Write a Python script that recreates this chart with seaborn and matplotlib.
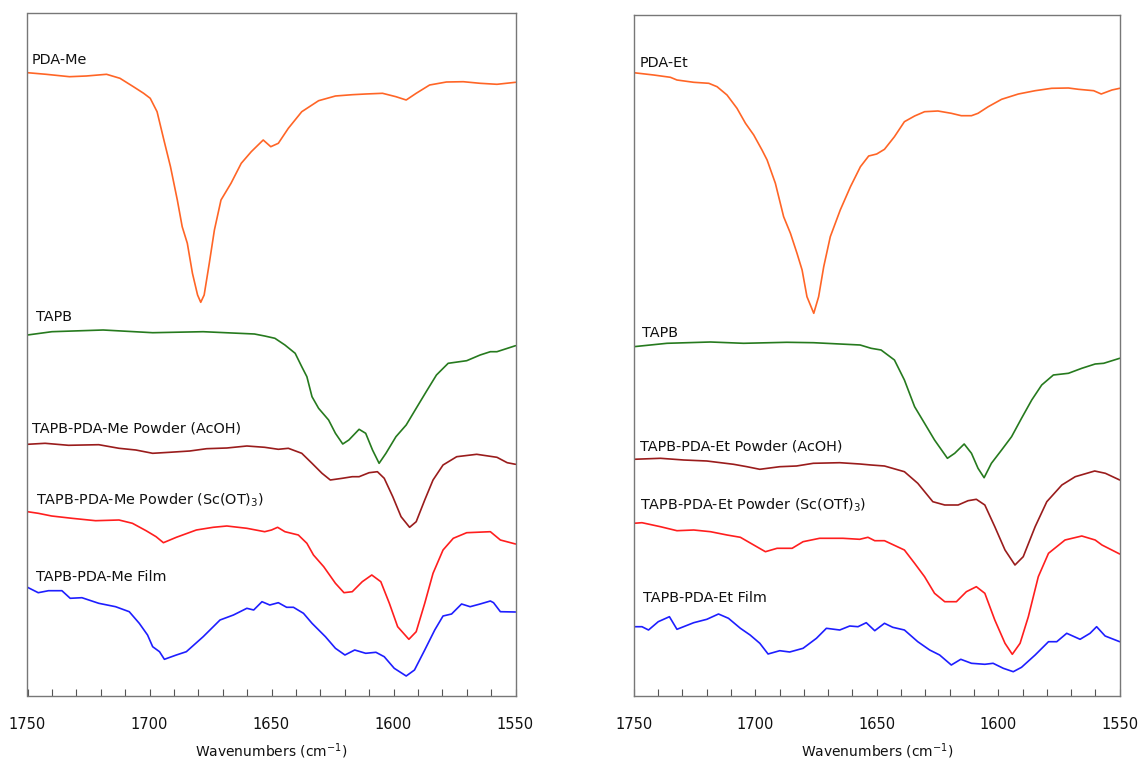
import matplotlib
matplotlib.use("Agg")
import matplotlib.pyplot as plt
import seaborn as sns
import pandas as pd
from matplotlib.ticker import MultipleLocator

# ---------------- data (offset absorbance, arbitrary units; larger = lower on plot) ----------------
# Left panel: PDA-Me series
wn_pda_me = [1750, 1742.4, 1732.8, 1725.9, 1717.6, 1712.1, 1706.6, 1702.4, 1699.7, 1696.9, 1694.1, 1691.4,
             1688.6, 1686.6, 1684.5, 1682.4, 1680.3, 1679, 1677.6, 1675.5, 1673.4, 1670.7, 1666.6, 1662.4,
             1658.3, 1653.4, 1650.3, 1647.2, 1643.1, 1637.6, 1630.7, 1623.8, 1616.9, 1611.4, 1604.5, 1599,
             1594.8, 1590.7, 1585.2, 1578.3, 1571.4, 1564.5, 1557.6, 1550]
ab_pda_me = [72.7, 74.3, 76.7, 76, 74.3, 78.3, 86.7, 93.3, 98.3, 111.7, 140, 166.7,
             200, 226.7, 243.3, 273.3, 295, 302.3, 295, 263.3, 230, 200, 183.3, 163.3,
             151.7, 140, 146.7, 143.3, 128.3, 111.7, 100.7, 96, 94.7, 94, 93.3, 96.7,
             100, 93.3, 85, 82, 81.7, 83.3, 84.3, 82.3]

wn_tapb_l = [1750, 1740, 1719, 1698.7, 1678, 1657, 1652.8, 1648.6, 1644.5, 1640.3, 1637.6, 1635.5, 1633.4,
             1630.7, 1626.6, 1623.8, 1620.8, 1618.3, 1614.1, 1611.4, 1608.6, 1605.9, 1603.1, 1599, 1594.8,
             1590.7, 1586.6, 1582.4, 1577.6, 1570, 1564.5, 1560.3, 1557.6, 1550]
ab_tapb_l = [335, 331.7, 330, 332.7, 331.7, 334, 336, 338.3, 345, 353.3, 366.7, 376.7, 396.7,
             408.3, 420, 433.3, 444, 440, 429.3, 433.3, 450, 463.3, 453.3, 436.7, 425,
             408.3, 391.7, 375, 363.3, 360.7, 355, 351.7, 351.7, 345.7]

wn_me_acoh = [1750, 1742.8, 1733.2, 1720.8, 1712.5, 1705.6, 1698.7, 1691.8, 1683.5, 1676.6, 1668.3, 1660.1,
              1652.8, 1647.2, 1643.1, 1637.6, 1633.4, 1629.3, 1625.9, 1621, 1616.9, 1614.1, 1610, 1606.6,
              1603.8, 1600.3, 1596.9, 1593.4, 1590.7, 1587.2, 1583.8, 1579.7, 1574.1, 1565.9, 1557.6,
              1553.4, 1550]
ab_me_acoh = [444.3, 443.3, 445.3, 444.7, 448.3, 450, 453.3, 452.3, 451, 448.7, 448, 446,
              447.3, 449.3, 448.3, 453.3, 463.3, 473.3, 480, 478.3, 476.7, 476.7, 472.7, 471.7,
              478.3, 496.7, 516.7, 527.3, 521.7, 500, 480, 465, 456.7, 454.3, 457.3,
              462.7, 464.3]

wn_me_sc = [1750, 1745.6, 1740.1, 1731.8, 1722.1, 1712.5, 1707, 1701.4, 1697.3, 1694.3, 1689, 1680.8,
            1673.9, 1668.3, 1660.1, 1652.8, 1650, 1647.5, 1644.5, 1639, 1635.5, 1632.8, 1628.6, 1623.8,
            1620.3, 1616.9, 1612.8, 1608.9, 1605.2, 1601.7, 1598.3, 1593.7, 1590.7, 1587.2, 1583.8,
            1579.7, 1575.5, 1570, 1560.3, 1556.2, 1550]
ab_me_sc = [511.7, 513.3, 516, 518.3, 520.7, 520, 523.3, 530.7, 536.7, 542.7, 537.3, 530,
            527.3, 526, 528.3, 531.7, 530, 527.3, 531.7, 535, 543.3, 555, 566.7, 583.3,
            592.7, 591.7, 581.7, 575, 581.7, 603.3, 626.7, 639.3, 631.7, 603.3, 573.3,
            550, 538.3, 532.7, 531.7, 540, 544]

wn_me_film = [1750, 1745.6, 1741.4, 1735.9, 1732.5, 1727.7, 1720.8, 1713.9, 1708.3, 1704.2, 1700.8, 1698.7,
              1695.9, 1693.9, 1689, 1684.9, 1678, 1671.1, 1665.6, 1660.1, 1657.3, 1653.9, 1650.7, 1647.2,
              1643.8, 1641, 1636.9, 1633.4, 1627.9, 1623.8, 1619.9, 1615.9, 1611.4, 1607.2, 1603.8,
              1599.7, 1594.8, 1591.4, 1587.2, 1583.1, 1579.7, 1576.2, 1572.1, 1568.6, 1564.5, 1560.3,
              1559, 1556.2, 1550]
ab_me_film = [587.3, 592.7, 590.7, 590.7, 598.3, 597.7, 603.3, 606.7, 611.7, 623.3, 635, 646.7,
              651.7, 659.3, 655, 651.7, 636.7, 620, 615, 608.3, 610, 601.7, 605, 602.7,
              607.3, 607.3, 613.3, 623.3, 636.7, 648.3, 655, 650, 653.3, 652.3, 656.7,
              668.3, 676, 670, 650, 630, 616, 614, 604, 606.7, 604, 601,
              602.7, 611.7, 612]

# Right panel: PDA-Et series
wn_pda_et = [1750, 1741.8, 1734.9, 1732.2, 1725.3, 1719.1, 1715.7, 1711.6, 1707.5, 1704, 1700.6, 1697.2,
             1695.1, 1691.7, 1688.3, 1685.5, 1682.8, 1680.7, 1678.7, 1675.9, 1673.9, 1671.8, 1669.1, 1665,
             1660.8, 1656.7, 1653.3, 1650, 1646.8, 1642.7, 1638.6, 1634.4, 1630.3, 1624.8, 1619.3, 1615.2,
             1611, 1608.3, 1604.1, 1598.6, 1591.7, 1584.8, 1578, 1571.1, 1567, 1560.7, 1557.6, 1553.2, 1550]
ab_pda_et = [72.7, 75, 77.3, 80, 82.3, 83.3, 86.7, 95, 108.3, 123.3, 135, 150,
             160, 183.3, 216.7, 233.3, 253.3, 270, 296.7, 313.3, 296.7, 266.7, 236.7, 210,
             186.7, 166.7, 156, 154, 149.3, 136.7, 121.7, 116, 111.7, 111, 113.3, 115.7,
             115.7, 113.3, 106.7, 99.3, 94, 90.7, 88.3, 88, 89.3, 90.7, 94, 90, 88.3]

wn_tapb_r = [1750, 1736.3, 1718.4, 1704.8, 1687, 1676, 1656.8, 1652.3, 1648.2, 1642.7, 1638.6, 1634.4,
             1630.3, 1626.2, 1620.9, 1617.9, 1614, 1611, 1608.3, 1605.8, 1602.8, 1598.6, 1594.5, 1590.4,
             1586.2, 1582.1, 1577.3, 1571.1, 1565.6, 1560.1, 1556.6, 1550]
ab_tapb_r = [346.7, 343.3, 342, 343.3, 342.3, 342.7, 345, 348.3, 350, 360, 380, 406.7,
             423.3, 440, 458.3, 453.3, 444, 453.3, 468.3, 477.7, 463.3, 450, 436.7, 418.3,
             400, 385, 375, 373.3, 368.3, 364, 363.3, 358.3]

wn_et_acoh = [1750, 1739, 1729.4, 1719.9, 1708.9, 1703.4, 1698.1, 1689.9, 1683, 1676.1, 1665.2, 1656.9,
              1652.3, 1646.8, 1638.6, 1633.1, 1626.9, 1622, 1616.5, 1612.4, 1609, 1605.5, 1601.4, 1597.2,
              1593.1, 1589.7, 1584.8, 1580, 1573.8, 1568.3, 1560.3, 1555.9, 1550]
ab_et_acoh = [459.3, 458.3, 460, 461, 464.3, 466.7, 469.3, 466.7, 466, 463.3, 462.7, 464,
              465, 466, 471.7, 483.3, 501.7, 505, 505, 500.7, 499.3, 505, 526.7, 550,
              565, 556.7, 526.7, 501.7, 485, 476.7, 471, 473.3, 480]

wn_et_sc = [1750, 1746.6, 1739, 1732.2, 1725.3, 1718.4, 1711.6, 1706.1, 1700.6, 1695.8, 1691, 1684.8,
            1680.3, 1673.5, 1663.9, 1657, 1653.6, 1650.8, 1646.8, 1638.6, 1634.4, 1630.3, 1626.2, 1622,
            1617.2, 1613.1, 1609, 1605.5, 1601.4, 1597.2, 1594.2, 1591, 1587.6, 1583.5, 1579.3, 1572.5,
            1565.6, 1560.1, 1557.3, 1550]
ab_et_sc = [523.3, 522.7, 526.7, 530.7, 530, 531.7, 535, 537.3, 545, 551.7, 548.3, 548.3,
            541.7, 538.3, 538.3, 539.3, 537.3, 540.7, 540.7, 550, 563.3, 576.7, 593.3, 601.7,
            601.7, 591.7, 586.7, 593.3, 620, 643.3, 654.3, 643.3, 616.7, 576.7, 553.3, 540,
            536, 540, 545, 554]

wn_et_film = [1750, 1746.6, 1743.9, 1739.9, 1735.3, 1732.2, 1725.3, 1719.9, 1715.1, 1711, 1706.1, 1702.1,
              1698.1, 1694.7, 1689.9, 1685.8, 1680.3, 1674.8, 1670.7, 1665.2, 1661.1, 1657.7, 1654.3,
              1650.8, 1646.8, 1643.4, 1638.6, 1633.1, 1628.2, 1624.1, 1619.3, 1615.4, 1611, 1605.5,
              1602.1, 1597.9, 1593.8, 1590.4, 1584.8, 1579.3, 1575.9, 1571.8, 1566.3, 1562.2, 1559.5,
              1556, 1550]
ab_et_film = [626.7, 626.7, 630, 621.7, 616.7, 629.3, 622.7, 619.3, 614, 618.3, 628.3, 635,
              643.3, 654, 650.7, 652, 648.3, 638.3, 628.3, 630, 626, 626.7, 622.7,
              630.7, 623.3, 627.3, 630, 641.7, 650, 655, 665, 659.3, 663.3, 664.3,
              663.3, 668.3, 671.7, 667.3, 655, 641.7, 641.7, 633.3, 639.3, 633.3, 626.7,
              636, 641.7]

x_ticks = [1750, 1700, 1650, 1600, 1550]

left_labels = ["PDA-Me", "TAPB", "TAPB-PDA-Me Powder (AcOH)",
               "TAPB-PDA-Me Powder (Sc(OT)$_3$)", "TAPB-PDA-Me Film"]
right_labels = ["PDA-Et", "TAPB", "TAPB-PDA-Et Powder (AcOH)",
                "TAPB-PDA-Et Powder (Sc(OTf)$_3$)", "TAPB-PDA-Et Film"]

colors = ["#FF6526", "#267A1E", "#9A1C1C", "#FF1E1E", "#1E1EFF"]

# ---------------- plotting ----------------
sns.set_theme(style="white")
plt.rcParams['font.family'] = ['DejaVu Sans']

W, H = 1142, 759
fig = plt.figure(figsize=(W / 100, H / 100), dpi=100)
axL = fig.add_axes([27.5 / W, 63 / H, 488 / W, 683.3 / H])
axR = fig.add_axes([633.7 / W, 63 / H, 486 / W, 681 / H])

left_series = [(wn_pda_me, ab_pda_me), (wn_tapb_l, ab_tapb_l), (wn_me_acoh, ab_me_acoh),
               (wn_me_sc, ab_me_sc), (wn_me_film, ab_me_film)]
right_series = [(wn_pda_et, ab_pda_et), (wn_tapb_r, ab_tapb_r), (wn_et_acoh, ab_et_acoh),
                (wn_et_sc, ab_et_sc), (wn_et_film, ab_et_film)]

# label anchor positions (wavenumber, value)
left_label_pos = [(1748.3, 60), (1746.6, 317), (1748.0, 429), (1746.6, 500), (1746.6, 577)]
right_label_pos = [(1747.6, 63), (1746.6, 333), (1747.6, 446), (1747.6, 505), (1746.2, 598)]

for ax, series, labels, lpos, ytop in [(axL, left_series, left_labels, left_label_pos, 12.7),
                                       (axR, right_series, right_labels, right_label_pos, 15)]:
    for (wn, ab), c in zip(series, colors):
        df = pd.DataFrame({"wn": wn, "ab": ab})
        sns.lineplot(data=df, x="wn", y="ab", ax=ax, color=c, lw=1.2, estimator=None,
                     solid_joinstyle="round", solid_capstyle="round")
    for (lx, ly), t in zip(lpos, labels):
        ax.text(lx, ly, t, fontsize=10.4, color="#111111", ha="left", va="center")
    ax.set_xlim(1750, 1550)
    ax.set_ylim(696, ytop)
    ax.set_yticks([])
    ax.set_ylabel("")
    ax.set_xticks(x_ticks)
    ax.xaxis.set_minor_locator(MultipleLocator(10))
    ax.tick_params(axis="x", which="both", direction="in", bottom=True, top=False,
                   color="#555555", width=0.8, labelsize=10.5, pad=15, labelcolor="#111111")
    ax.tick_params(axis="x", which="major", length=5)
    ax.tick_params(axis="x", which="minor", length=5)
    for s in ax.spines.values():
        s.set_color("#777777")
        s.set_linewidth(1.0)
    ax.set_xlabel("Wavenumbers (cm$^{-1}$)", fontsize=10, color="#111111", labelpad=7)

fig.savefig("out.png", dpi=100, facecolor="white")
